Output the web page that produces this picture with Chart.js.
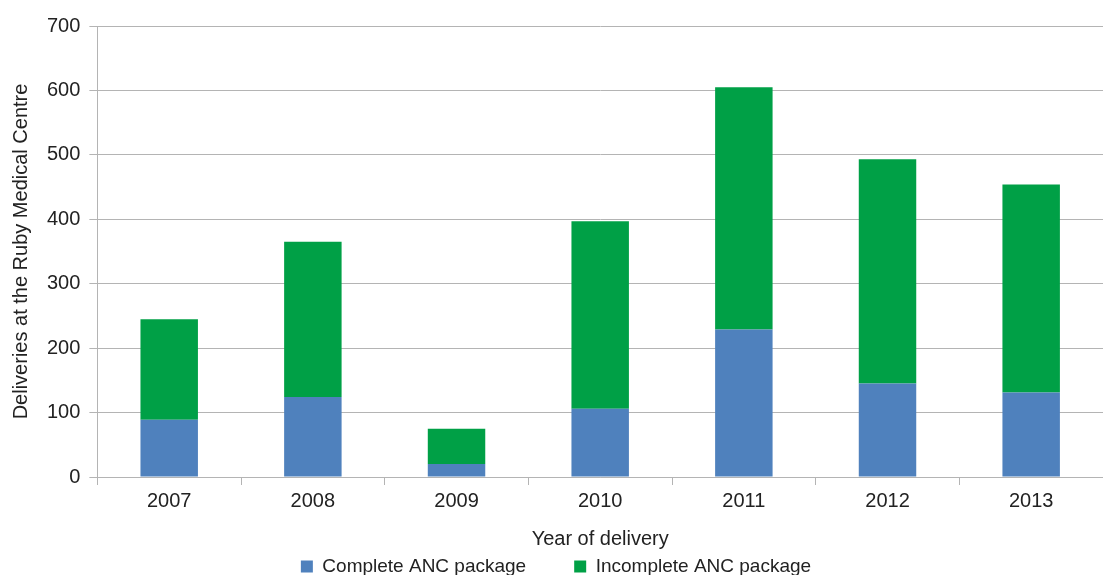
<!DOCTYPE html>
<html>
<head>
<meta charset="utf-8">
<script src="https://cdn.jsdelivr.net/npm/chart.js@4"></script>
<style>
  html, body { margin: 0; padding: 0; background: #fff; }
  #wrap { width: 1103px; height: 575px; }
</style>
</head>
<body>
<div id="wrap"><canvas id="deliveryChart" width="1103" height="575"></canvas></div>
<script>
// Years and delivery counts
const years = ['2007', '2008', '2009', '2010', '2011', '2012', '2013'];
const completeAnc = [89, 124, 20, 106, 229, 145, 131];
const incompleteAnc = [156, 241, 55, 291, 376, 348, 323];
const yTicks = [0, 100, 200, 300, 400, 500, 600, 700];

const gridGrey = '#b4b4b4';
const textColor = '#222222';

Chart.defaults.font.family = '"Liberation Sans", Arial, sans-serif';
Chart.defaults.color = textColor;

// Build the chart
const ctx = document.getElementById('deliveryChart').getContext('2d');
const deliveryChart = new Chart(ctx, {
    type: 'bar',
    data: {
        labels: years,
        datasets: [
            {
                label: 'Complete ANC package',
                data: completeAnc,
                backgroundColor: '#4f81bd',
                borderWidth: 0,
                barPercentage: 0.4,
                categoryPercentage: 1.0
            },
            {
                label: 'Incomplete ANC package',
                data: incompleteAnc,
                backgroundColor: '#00a046',
                borderWidth: 0,
                barPercentage: 0.4,
                categoryPercentage: 1.0
            }
        ]
    },
    options: {
        responsive: false,
        devicePixelRatio: 1,
        animation: false,
        layout: {
            padding: { left: 9, right: 0, top: 26, bottom: -11 }
        },
        plugins: {
            legend: {
                position: 'bottom',
                labels: {
                    boxWidth: 12,
                    boxHeight: 12,
                    padding: 48,
                    font: { size: 19 },
                    color: textColor
                }
            },
            tooltip: { enabled: false }
        },
        scales: {
            x: {
                stacked: true,
                grid: {
                    offset: true,
                    drawOnChartArea: false,
                    drawTicks: true,
                    tickLength: 8,
                    color: gridGrey
                },
                border: { color: gridGrey },
                ticks: {
                    font: { size: 20 },
                    padding: 4
                },
                title: {
                    display: true,
                    text: 'Year of delivery',
                    font: { size: 20 },
                    padding: { top: 10, bottom: -42 }
                }
            },
            y: {
                stacked: true,
                min: 0,
                max: 700,
                afterBuildTicks: function (axis) {
                    axis.ticks = yTicks.map(v => ({ value: v }));
                },
                grid: {
                    color: gridGrey,
                    tickLength: 8
                },
                border: { color: gridGrey },
                ticks: {
                    font: { size: 20 },
                    padding: 9
                },
                title: {
                    display: true,
                    text: 'Deliveries at the Ruby Medical Centre',
                    font: { size: 20 },
                    padding: { top: 0, bottom: 5 }
                }
            }
        }
    }
});
</script>
</body>
</html>
